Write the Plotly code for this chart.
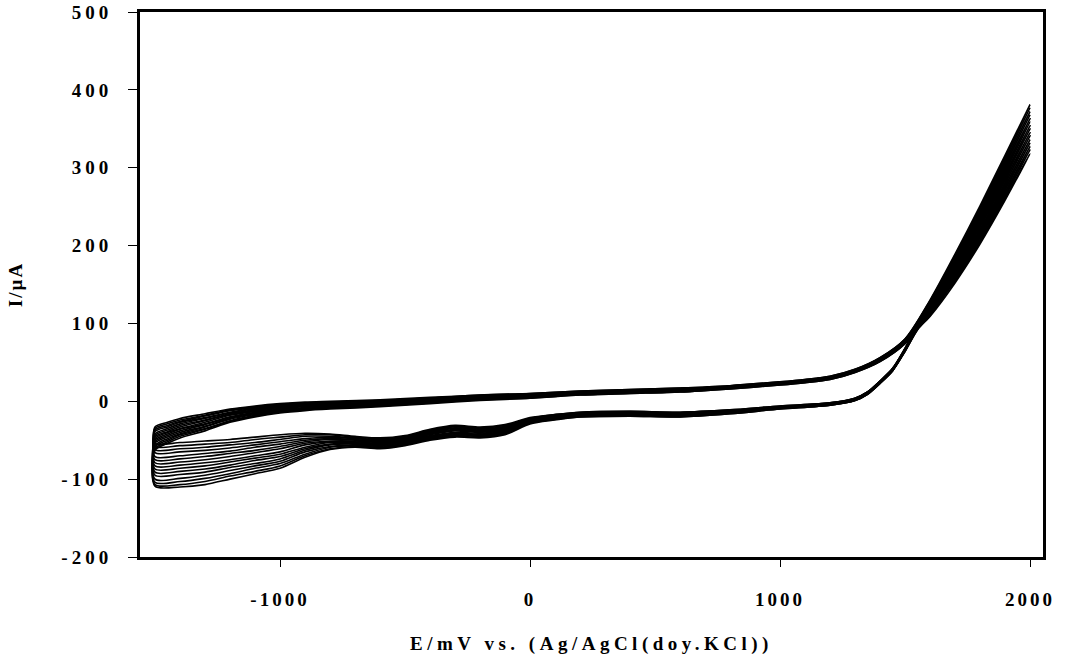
import plotly.graph_objects as go

# Potential grid (mV) of the anodic (forward) sweep
fwd_E = [-1500, -1450, -1400, -1300, -1200, -1100, -1000, -900, -800, -600, -400, -200,
         0, 200, 400, 600, 800, 1000, 1100, 1200, 1300, 1400, 1500, 1600, 1700, 1800, 1900, 2000]

# Current (uA) of the forward sweep: one row per potential, one value per cycle (15 cycles)
fwd_I = [
    [-33, -35, -37, -39, -42, -44, -46, -48, -50, -52, -54, -57, -59, -61, -63],
    [-27, -29, -31, -33, -35, -37, -39, -40, -42, -44, -46, -48, -50, -52, -54],
    [-22, -24, -26, -27, -29, -31, -33, -35, -36, -38, -40, -42, -43, -45, -47],
    [-16, -18, -19, -21, -22, -24, -25, -27, -29, -30, -32, -33, -35, -36, -38],
    [-10, -11, -12, -14, -15, -16, -17, -18, -20, -21, -22, -23, -25, -26, -27],
    [-6, -7, -8, -9, -10, -11, -12, -13, -14, -15, -16, -17, -18, -19, -20],
    [-3, -4, -5, -6, -6, -7, -8, -9, -10, -11, -12, -12, -13, -14, -15],
    [-1, -2, -3, -3, -4, -5, -6, -6, -7, -8, -9, -10, -10, -11, -12],
    [0, -1, -1, -2, -3, -4, -4, -5, -6, -6, -7, -8, -9, -9, -10],
    [2, 1, 1, 0, -1, -1, -2, -3, -3, -4, -4, -5, -6, -6, -7],
    [5, 4, 4, 3, 3, 2, 2, 1, 0, 0, -1, -1, -2, -2, -3],
    [8, 8, 7, 7, 6, 6, 5, 5, 4, 4, 3, 3, 2, 2, 1],
    [10, 10, 9, 9, 8, 8, 7, 7, 7, 6, 6, 5, 5, 4, 4],
    [13, 13, 12, 12, 12, 11, 11, 11, 10, 10, 9, 9, 9, 8, 8],
    [15, 15, 14, 14, 14, 13, 13, 13, 12, 12, 11, 11, 11, 10, 10],
    [17, 17, 16, 16, 16, 15, 15, 15, 14, 14, 13, 13, 13, 12, 12],
    [20, 20, 19, 19, 19, 19, 18, 18, 18, 17, 17, 17, 17, 16, 16],
    [25, 25, 24, 24, 24, 24, 23, 23, 23, 22, 22, 22, 22, 21, 21],
    [28, 28, 27, 27, 27, 27, 26, 26, 26, 25, 25, 25, 25, 24, 24],
    [32, 32, 31, 31, 31, 31, 30, 30, 30, 29, 29, 29, 29, 28, 28],
    [41, 41, 40, 40, 40, 40, 39, 39, 39, 38, 38, 38, 38, 37, 37],
    [56, 56, 55, 55, 55, 54, 54, 54, 53, 53, 52, 52, 52, 51, 51],
    [80, 80, 79, 79, 78, 78, 77, 77, 77, 76, 76, 75, 75, 74, 74],
    [130, 129, 128, 127, 125, 124, 123, 122, 121, 120, 119, 117, 116, 115, 114],
    [189, 187, 184, 182, 179, 177, 174, 172, 170, 167, 165, 162, 160, 157, 155],
    [251, 248, 244, 241, 238, 235, 231, 228, 225, 221, 218, 215, 212, 208, 205],
    [316, 312, 308, 304, 300, 296, 292, 289, 285, 281, 277, 273, 269, 265, 261],
    [381, 377, 372, 368, 363, 359, 354, 350, 345, 341, 336, 332, 327, 323, 318],
]

# Potential grid (mV) of the cathodic (reverse) sweep
rev_E = [1900, 1800, 1700, 1600, 1550, 1500, 1450, 1400, 1350, 1300, 1200, 1000, 800, 600,
         400, 200, 100, 0, -100, -200, -300, -400, -500, -600, -700, -800, -900, -1000,
         -1100, -1200, -1300, -1400, -1500]

# Current (uA) of the reverse sweep: one row per potential, one value per cycle
rev_I = [
    [314, 310, 306, 302, 298, 294, 290, 287, 283, 279, 275, 271, 267, 263, 258],
    [249, 246, 242, 239, 236, 233, 229, 226, 223, 219, 216, 213, 210, 206, 202],
    [187, 185, 182, 180, 177, 175, 172, 170, 168, 165, 163, 160, 158, 155, 152],
    [124, 123, 121, 120, 119, 118, 117, 116, 115, 114, 113, 112, 111, 110, 109],
    [98, 98, 97, 97, 96, 96, 95, 95, 95, 94, 94, 93, 93, 92, 92],
    [68, 68, 67, 67, 67, 67, 66, 66, 66, 65, 65, 65, 65, 64, 64],
    [42, 42, 42, 41, 41, 41, 41, 41, 40, 40, 40, 40, 39, 39, 39],
    [26, 26, 26, 25, 25, 25, 25, 25, 24, 24, 24, 24, 23, 23, 23],
    [12, 12, 12, 11, 11, 11, 11, 11, 10, 10, 10, 10, 9, 9, 9],
    [4, 4, 4, 3, 3, 3, 3, 3, 2, 2, 2, 2, 1, 1, 1],
    [-2, -2, -2, -3, -3, -3, -3, -3, -4, -4, -4, -4, -5, -5, -5],
    [-6, -6, -7, -7, -7, -7, -8, -8, -8, -9, -9, -9, -9, -10, -10],
    [-11, -11, -12, -12, -12, -13, -13, -13, -14, -14, -15, -15, -15, -16, -16],
    [-14, -14, -15, -15, -16, -16, -17, -17, -17, -18, -18, -19, -19, -20, -20],
    [-13, -13, -14, -14, -15, -15, -16, -16, -16, -17, -17, -18, -18, -19, -19],
    [-14, -14, -15, -15, -16, -16, -17, -17, -17, -18, -18, -19, -19, -20, -20],
    [-17, -17, -18, -18, -19, -19, -20, -20, -21, -21, -22, -22, -23, -23, -24],
    [-21, -22, -22, -23, -23, -24, -24, -25, -26, -26, -27, -27, -28, -28, -29],
    [-30, -31, -32, -33, -34, -35, -36, -36, -37, -38, -39, -40, -41, -42, -43],
    [-33, -34, -35, -36, -37, -38, -39, -40, -41, -42, -43, -44, -45, -46, -47],
    [-31, -32, -33, -34, -35, -36, -37, -38, -40, -41, -42, -43, -44, -45, -46],
    [-36, -37, -38, -39, -40, -41, -42, -43, -44, -45, -46, -47, -48, -49, -50],
    [-44, -45, -46, -47, -48, -49, -50, -50, -51, -52, -53, -54, -55, -56, -57],
    [-47, -48, -49, -50, -51, -52, -53, -54, -55, -56, -57, -58, -59, -60, -61],
    [-45, -46, -47, -48, -49, -50, -51, -52, -53, -54, -55, -56, -57, -58, -59],
    [-42, -43, -45, -46, -48, -49, -51, -52, -53, -55, -56, -58, -59, -61, -62],
    [-41, -43, -45, -48, -50, -52, -54, -56, -59, -61, -63, -65, -68, -70, -72],
    [-43, -46, -49, -52, -55, -58, -61, -65, -68, -71, -74, -77, -80, -83, -86],
    [-46, -49, -53, -56, -59, -63, -66, -70, -73, -76, -80, -83, -86, -90, -93],
    [-49, -53, -56, -60, -64, -67, -71, -75, -78, -82, -85, -89, -93, -96, -100],
    [-51, -55, -59, -63, -67, -71, -75, -79, -83, -87, -91, -95, -99, -103, -107],
    [-53, -57, -61, -65, -70, -74, -78, -82, -86, -90, -94, -99, -103, -107, -110],
    [-54, -58, -62, -66, -71, -75, -79, -83, -87, -91, -95, -100, -104, -107, -109],
]

x_ticks = [-1000, 0, 1000, 2000]
x_tick_labels = ["-1000", "0", "1000", "2000"]
y_ticks = [-200, -100, 0, 100, 200, 300, 400, 500]
y_tick_labels = ["-200", "-100", "0", "100", "200", "300", "400", "500"]
x_title = "E/mV vs. (Ag/AgCl(doy.KCl))"
y_title = "I/µA"


def spaced(text, px):
    return '<span style="letter-spacing:%spx">%s</span>' % (px, text)


n_cycles = len(fwd_I[0])
fig = go.Figure()
for k in range(n_cycles):
    xs = fwd_E + rev_E + [fwd_E[0]]
    ys = [row[k] for row in fwd_I] + [row[k] for row in rev_I] + [fwd_I[0][k]]
    fig.add_trace(go.Scatter(
        x=xs, y=ys, mode="lines",
        line=dict(color="black", width=1.6, shape="spline", smoothing=0.8),
        hoverinfo="skip", showlegend=False,
    ))

tick_font = dict(family="Liberation Serif", size=19, color="black", weight="bold")
title_font = dict(family="Liberation Serif", size=19, color="black", weight="bold")

fig.update_layout(
    width=1070, height=661,
    margin=dict(l=140, r=27, t=12, b=104),
    plot_bgcolor="white", paper_bgcolor="white",
    showlegend=False,
)
fig.update_xaxes(
    range=[-1560, 2052], tickvals=x_ticks,
    ticktext=[spaced(t, 3) for t in x_tick_labels],
    ticks="outside", ticklen=7, tickwidth=1, automargin=False, ticklabeloverflow="allow",
    tickcolor="black", showline=True, linewidth=3, linecolor="black", mirror=True,
    showgrid=False, zeroline=False, tickfont=tick_font, ticklabelstandoff=16,
    title=dict(text=spaced(x_title, 4.5), font=title_font, standoff=28),
)
fig.update_yaxes(
    range=[-200, 500], tickvals=y_ticks,
    ticktext=[spaced(t, 4) for t in y_tick_labels],
    ticks="outside", ticklen=9, tickwidth=1, automargin=False, ticklabeloverflow="allow",
    tickcolor="black", showline=True, linewidth=3, linecolor="black", mirror=True,
    showgrid=False, zeroline=False, tickfont=tick_font, ticklabelstandoff=12,
    title=dict(text=spaced(y_title, 2), font=title_font, standoff=34),
)

# remove the page's default body margin so the figure fills the window exactly
page_js = ("document.body.style.margin='0';"
           "document.body.style.overflow='hidden';"
           "document.documentElement.style.overflow='hidden';")
fig.write_html("out.html", post_script=page_js,
               config={"displayModeBar": False, "staticPlot": True})
